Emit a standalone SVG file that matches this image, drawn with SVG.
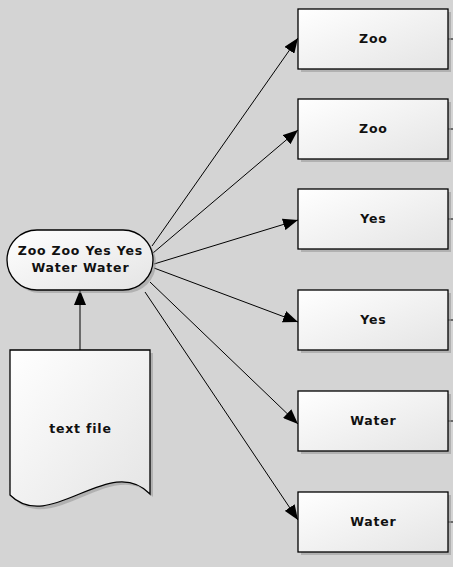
<svg xmlns="http://www.w3.org/2000/svg" width="453" height="567" viewBox="0 0 453 567">
<style>
.node{fill:url(#g);stroke:#000;stroke-width:1.3}
.sh{fill:#9a9a9a;opacity:0.6}
.lbl{font-family:"DejaVu Sans",Verdana,sans-serif;font-weight:bold;font-size:12.5px;letter-spacing:0.8px;fill:#111;text-anchor:middle}
.edge{stroke:#000;stroke-width:1;fill:none}
</style>
<defs>
<linearGradient id="g" x1="0" y1="0" x2="1" y2="1">
<stop offset="0" stop-color="#ffffff"/>
<stop offset="1" stop-color="#e4e4e4"/>
</linearGradient>
<marker id="ah" markerUnits="userSpaceOnUse" markerWidth="16" markerHeight="12" refX="15" refY="6" orient="auto">
<path d="M0,0 L15,6 L0,12 Z" fill="#000"/>
</marker>
</defs>
<rect width="453" height="567" fill="#d4d4d4"/>
<g id="connectors">
<line class="edge" x1="80" y1="350" x2="80" y2="290" marker-end="url(#ah)"/>
<line class="edge" x1="152" y1="246" x2="298" y2="38" marker-end="url(#ah)"/>
<line class="edge" x1="153" y1="253" x2="298" y2="130" marker-end="url(#ah)"/>
<line class="edge" x1="154" y1="264" x2="298" y2="220" marker-end="url(#ah)"/>
<line class="edge" x1="154" y1="268" x2="298" y2="322" marker-end="url(#ah)"/>
<line class="edge" x1="150" y1="282" x2="298" y2="424" marker-end="url(#ah)"/>
<line class="edge" x1="145" y1="292" x2="298" y2="520" marker-end="url(#ah)"/>
<line class="edge" x1="448" y1="39" x2="453" y2="39"/>
<line class="edge" x1="448" y1="129" x2="453" y2="129"/>
<line class="edge" x1="448" y1="219" x2="453" y2="219"/>
<line class="edge" x1="448" y1="320" x2="453" y2="320"/>
<line class="edge" x1="448" y1="421" x2="453" y2="421"/>
<line class="edge" x1="448" y1="522" x2="453" y2="522"/>
</g>
<g id="source">
<rect class="sh" x="10" y="233" width="146" height="60" rx="30"/>
<rect class="node" x="7" y="230" width="146" height="60" rx="30"/>
<text class="lbl" x="80.4" y="255">Zoo Zoo Yes Yes</text>
<text class="lbl" x="80.4" y="272">Water Water</text>
</g>
<g id="textfile">
<path class="sh" d="M13,353 H153 V497 C113,455 53,538 13,498 Z"/>
<path class="node" d="M10,350 H150 V494 C110,452 50,535 10,495 Z"/>
<text class="lbl" x="80.4" y="433">text file</text>
</g>
<g id="n1">
<rect class="sh" x="301" y="12" width="150" height="60"/>
<rect class="node" x="298" y="9" width="150" height="60"/>
<text class="lbl" x="373.4" y="42.5">Zoo</text>
</g>
<g id="n2">
<rect class="sh" x="301" y="102" width="150" height="60"/>
<rect class="node" x="298" y="99" width="150" height="60"/>
<text class="lbl" x="373.4" y="132.5">Zoo</text>
</g>
<g id="n3">
<rect class="sh" x="301" y="192" width="150" height="60"/>
<rect class="node" x="298" y="189" width="150" height="60"/>
<text class="lbl" x="373.4" y="222.5">Yes</text>
</g>
<g id="n4">
<rect class="sh" x="301" y="293" width="150" height="60"/>
<rect class="node" x="298" y="290" width="150" height="60"/>
<text class="lbl" x="373.4" y="323.5">Yes</text>
</g>
<g id="n5">
<rect class="sh" x="301" y="394" width="150" height="60"/>
<rect class="node" x="298" y="391" width="150" height="60"/>
<text class="lbl" x="373.4" y="424.5">Water</text>
</g>
<g id="n6">
<rect class="sh" x="301" y="495" width="150" height="60"/>
<rect class="node" x="298" y="492" width="150" height="60"/>
<text class="lbl" x="373.4" y="525.5">Water</text>
</g>
</svg>
